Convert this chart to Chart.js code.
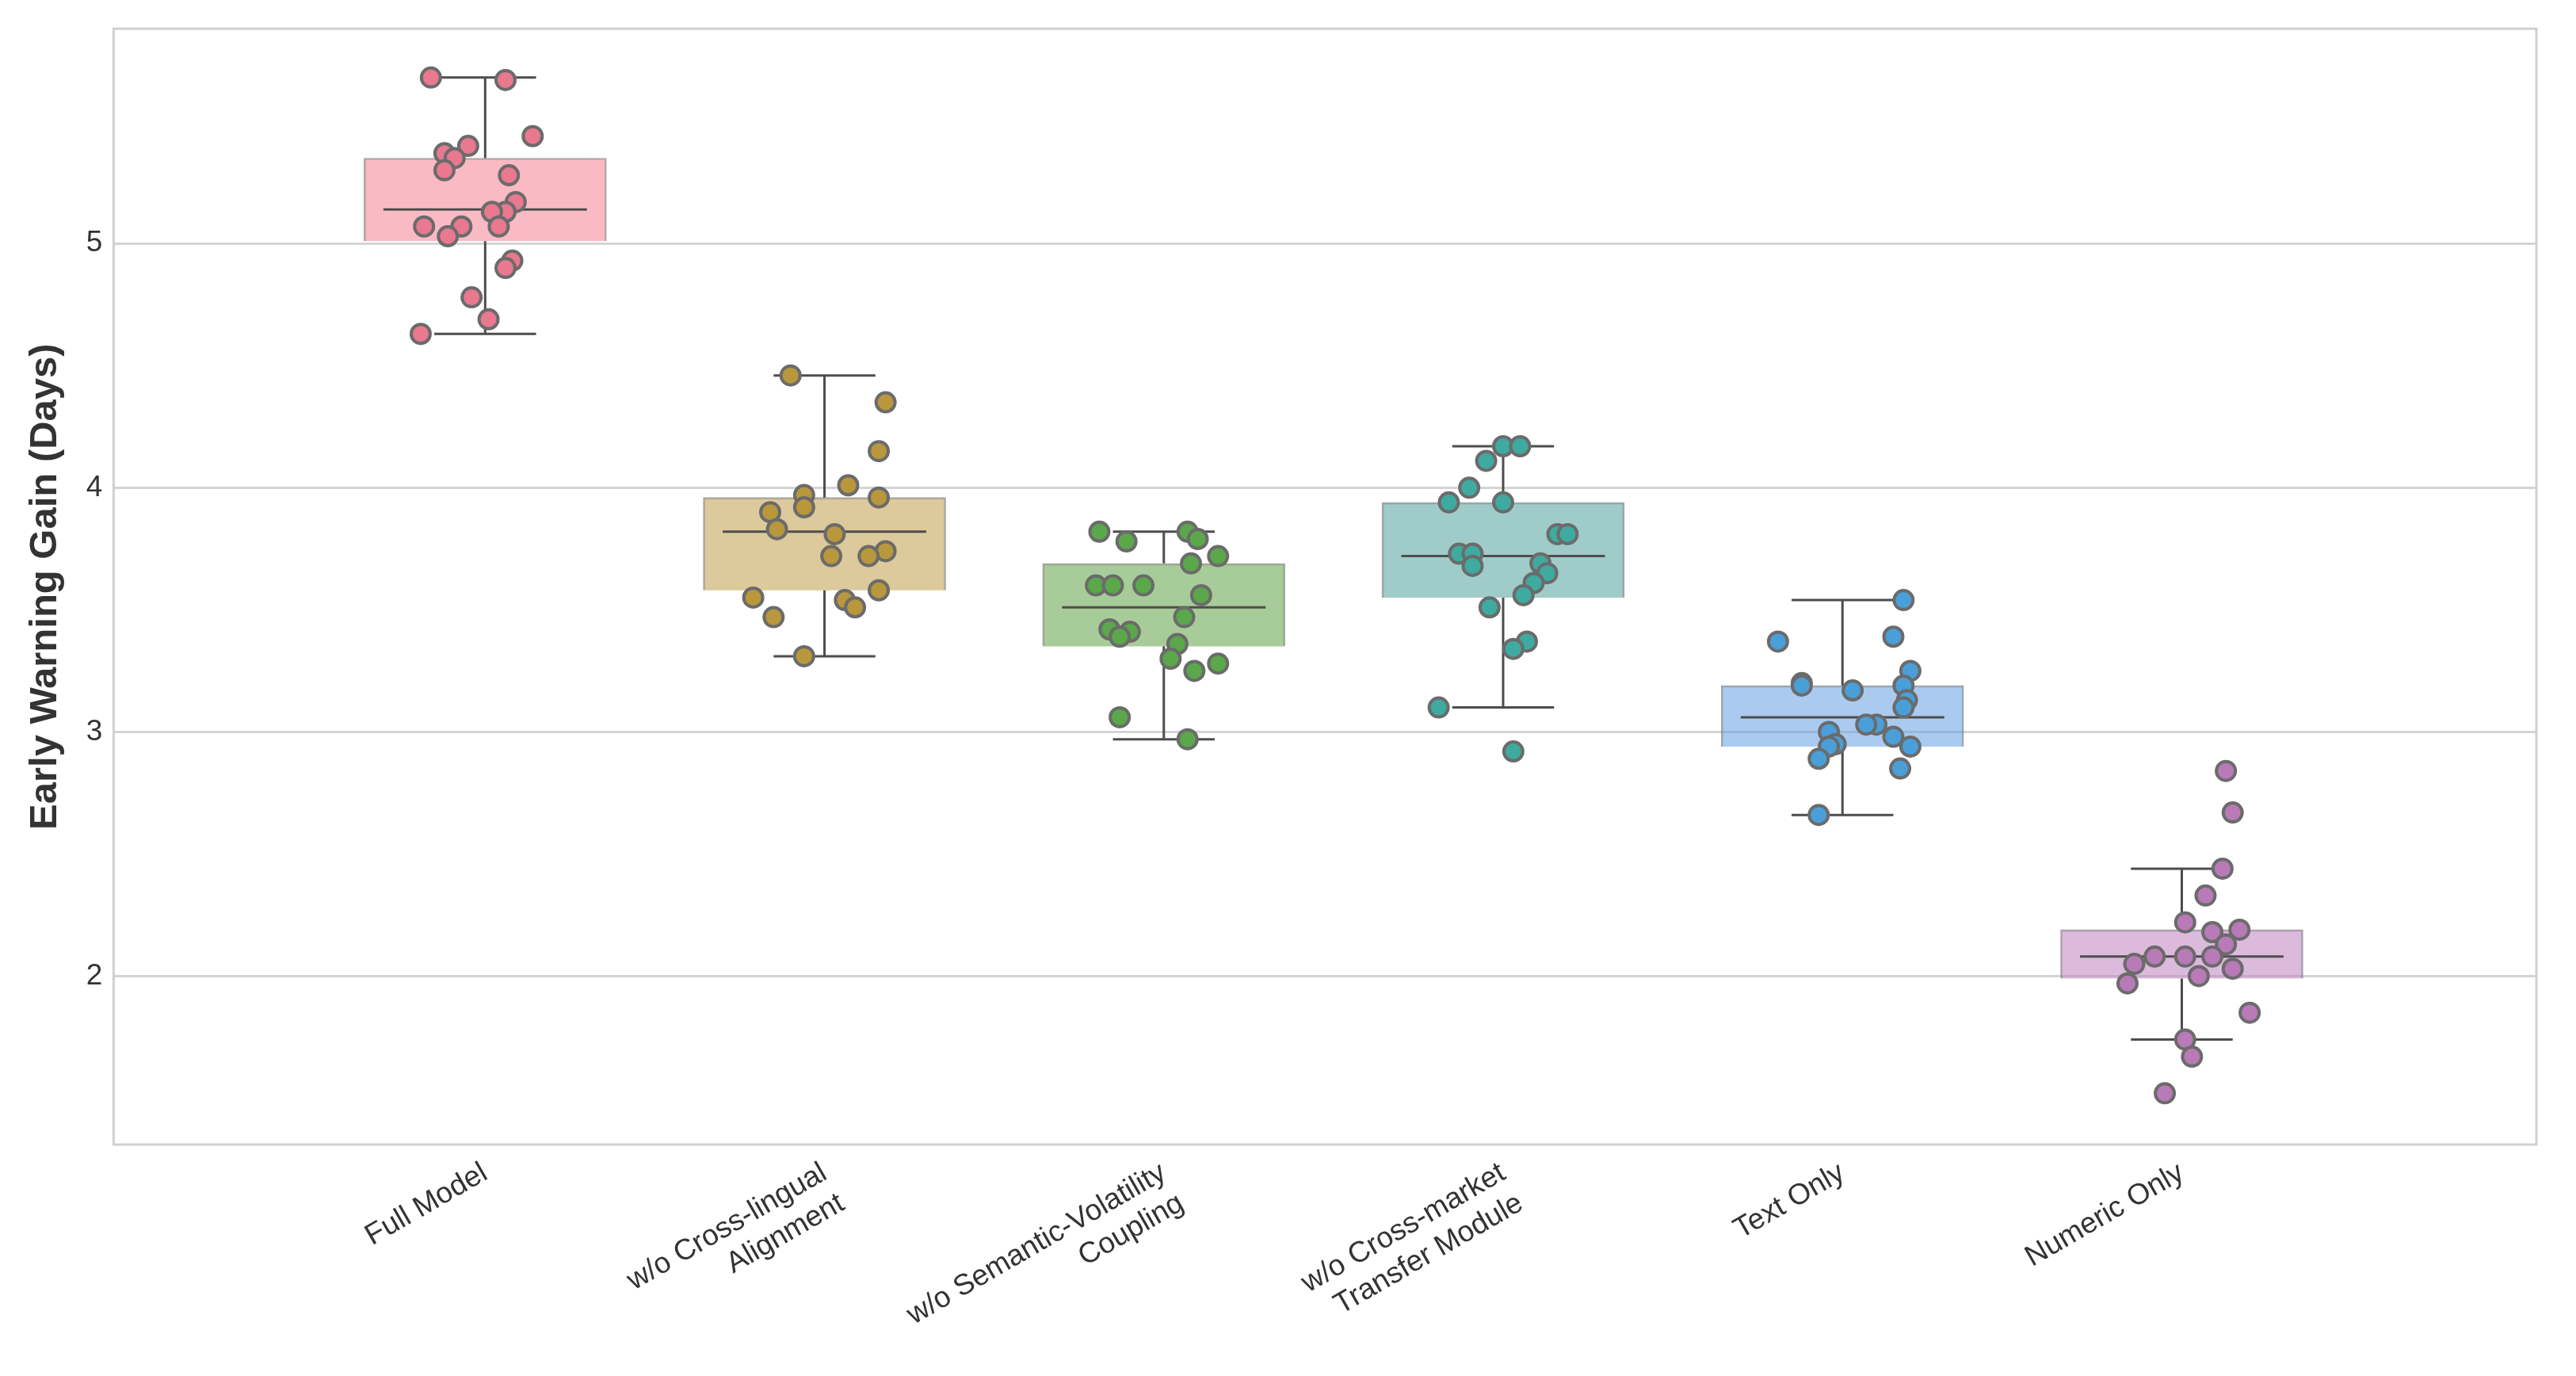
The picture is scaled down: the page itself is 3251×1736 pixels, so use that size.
<!DOCTYPE html>
<html>
<head>
<meta charset="utf-8">
<script src="https://cdn.jsdelivr.net/npm/chart.js@4.4.1/dist/chart.umd.min.js"></script>
<style>
  html, body { margin: 0; padding: 0; background: #fff; }
  #wrap { width: 3251px; height: 1736px; }
</style>
</head>
<body>
<div id="wrap"><canvas id="c"></canvas></div>
<script>
const CATEGORIES = [
  "Full Model",
  ["w/o Cross-lingual", "Alignment"],
  ["w/o Semantic-Volatility", "Coupling"],
  ["w/o Cross-market", "Transfer Module"],
  "Text Only",
  "Numeric Only",
];

// box statistics
const Q1 = [5.01, 3.58, 3.35, 3.55, 2.94, 1.99];
const MEDIAN = [5.14, 3.82, 3.51, 3.72, 3.06, 2.08];
const Q3 = [5.35, 3.96, 3.69, 3.94, 3.19, 2.19];
const WHISK_LO = [4.63, 3.31, 2.97, 3.10, 2.66, 1.74];
const WHISK_HI = [5.68, 4.46, 3.82, 4.17, 3.54, 2.44];

// individual runs (value) and their horizontal jitter
const FULL_VALS = [5.68, 5.67, 5.44, 5.40, 5.37, 5.35, 5.30, 5.28, 5.17, 5.13, 5.13, 5.07, 5.07, 5.07, 5.03, 4.93, 4.90, 4.78, 4.69, 4.63];
const FULL_JIT = [-0.16, 0.06, 0.14, -0.05, -0.12, -0.09, -0.12, 0.07, 0.09, 0.06, 0.02, -0.18, -0.07, 0.04, -0.11, 0.08, 0.06, -0.04, 0.01, -0.19];
const XLING_VALS = [4.46, 4.35, 4.15, 4.01, 3.97, 3.96, 3.92, 3.90, 3.83, 3.81, 3.74, 3.72, 3.72, 3.58, 3.55, 3.54, 3.51, 3.47, 3.31];
const XLING_JIT = [-0.10, 0.18, 0.16, 0.07, -0.06, 0.16, -0.06, -0.16, -0.14, 0.03, 0.18, 0.13, 0.02, 0.16, -0.21, 0.06, 0.09, -0.15, -0.06];
const SEMVOL_VALS = [3.82, 3.82, 3.79, 3.78, 3.72, 3.69, 3.60, 3.60, 3.60, 3.56, 3.47, 3.42, 3.41, 3.39, 3.36, 3.30, 3.28, 3.25, 3.06, 2.97];
const SEMVOL_JIT = [-0.19, 0.07, 0.10, -0.11, 0.16, 0.08, -0.20, -0.15, -0.06, 0.11, 0.06, -0.16, -0.10, -0.13, 0.04, 0.02, 0.16, 0.09, -0.13, 0.07];
const XMKT_VALS = [4.17, 4.17, 4.11, 4.00, 3.94, 3.94, 3.81, 3.81, 3.73, 3.73, 3.69, 3.68, 3.65, 3.61, 3.56, 3.51, 3.37, 3.34, 3.10, 2.92];
const XMKT_JIT = [0.0, 0.05, -0.05, -0.10, -0.16, 0.0, 0.16, 0.19, -0.13, -0.09, 0.11, -0.09, 0.13, 0.09, 0.06, -0.04, 0.07, 0.03, -0.19, 0.03];
const TEXT_VALS = [3.54, 3.37, 3.39, 3.25, 3.20, 3.19, 3.19, 3.17, 3.13, 3.10, 3.03, 3.03, 3.00, 2.98, 2.95, 2.94, 2.94, 2.89, 2.85, 2.66];
const TEXT_JIT = [0.18, -0.19, 0.15, 0.20, -0.12, -0.12, 0.18, 0.03, 0.19, 0.18, 0.10, 0.07, -0.04, 0.15, -0.02, -0.04, 0.20, -0.07, 0.17, -0.07];
const NUM_VALS = [2.84, 2.67, 2.44, 2.33, 2.22, 2.19, 2.18, 2.13, 2.05, 2.08, 2.08, 2.08, 2.03, 2.00, 1.97, 1.85, 1.74, 1.67, 1.52];
const NUM_JIT = [0.13, 0.15, 0.12, 0.07, 0.01, 0.17, 0.09, 0.13, -0.14, -0.08, 0.01, 0.09, 0.15, 0.05, -0.16, 0.20, 0.01, 0.03, -0.05];

const ALL_VALS = [FULL_VALS, XLING_VALS, SEMVOL_VALS, XMKT_VALS, TEXT_VALS, NUM_VALS];
const ALL_JIT = [FULL_JIT, XLING_JIT, SEMVOL_JIT, XMKT_JIT, TEXT_JIT, NUM_JIT];

const POINT_COLORS = ["#e8798f", "#b8973d", "#5aa84a", "#3eaaa0", "#4a9fd9", "#b97ab8"];
const BOX_COLORS = ["rgba(247,140,155,0.6)", "rgba(196,165,90,0.6)", "rgba(110,170,85,0.6)", "rgba(80,160,155,0.55)", "rgba(100,160,225,0.55)", "rgba(190,130,190,0.55)"];

const FONT = '"Liberation Sans", Arial, sans-serif';
const LINE = "#4d4d4d";

const boxData = CATEGORIES.map((_, i) => ({ x: i, y: [Q1[i], Q3[i]] }));

const whiskerData = [];
const capData = [];
const medianData = [];
CATEGORIES.forEach((_, i) => {
  const gap = { x: i, y: null };
  whiskerData.push({ x: i, y: WHISK_LO[i] }, { x: i, y: Q1[i] }, gap,
                   { x: i, y: Q3[i] }, { x: i, y: WHISK_HI[i] }, { x: i + 0.01, y: null });
  capData.push({ x: i - 0.15, y: WHISK_LO[i] }, { x: i + 0.15, y: WHISK_LO[i] }, { x: i + 0.15, y: null },
               { x: i - 0.15, y: WHISK_HI[i] }, { x: i + 0.15, y: WHISK_HI[i] }, { x: i + 0.15, y: null });
  medianData.push({ x: i - 0.3, y: MEDIAN[i] }, { x: i + 0.3, y: MEDIAN[i] }, { x: i + 0.3, y: null });
});

const pointDatasets = ALL_VALS.map((vals, i) => ({
  type: "scatter",
  data: vals.map((v, k) => ({ x: i + ALL_JIT[i][k], y: v })),
  backgroundColor: POINT_COLORS[i],
  borderColor: "#6b6b6b",
  borderWidth: 4,
  pointRadius: 12,
  order: 0,
}));

const lineStyle = { type: "line", borderColor: LINE, borderWidth: 3, pointRadius: 0, spanGaps: false, fill: false, order: 1 };

const frame = {
  id: "frame",
  afterDraw(chart) {
    const { ctx, chartArea: a } = chart;
    ctx.save();
    ctx.strokeStyle = "#d0d0d0";
    ctx.lineWidth = 3;
    ctx.strokeRect(a.left, a.top, a.right - a.left, a.bottom - a.top);
    ctx.restore();
  },
};

new Chart(document.getElementById("c"), {
  data: {
    datasets: [
      {
        type: "bar",
        data: boxData,
        backgroundColor: BOX_COLORS,
        borderColor: "rgba(110,110,110,0.6)",
        borderWidth: 2,
        barThickness: 306,
        grouped: false,
        order: 3,
      },
      { ...lineStyle, data: whiskerData },
      { ...lineStyle, data: capData },
      { ...lineStyle, data: medianData },
      ...pointDatasets,
    ],
  },
  options: {
    responsive: true,
    maintainAspectRatio: false,
    animation: false,
    parsing: true,
    layout: { padding: { left: 20, right: 50, top: 30, bottom: 10 } },
    plugins: { legend: { display: false }, tooltip: { enabled: false } },
    scales: {
      x: {
        type: "linear",
        min: -0.5,
        max: 5.45,
        afterBuildTicks(axis) {
          axis.ticks = CATEGORIES.map((_, i) => ({ value: i }));
        },
        ticks: {
          callback: (v) => CATEGORIES[v],
          minRotation: 30,
          maxRotation: 30,
          color: "#333",
          font: { family: FONT, size: 37 },
          padding: 6,
        },
        grid: { display: false },
        border: { display: false },
      },
      y: {
        min: 1.31,
        max: 5.88,
        afterBuildTicks(axis) {
          axis.ticks = [2, 3, 4, 5].map((v) => ({ value: v }));
        },
        ticks: { color: "#333", font: { family: FONT, size: 37 }, padding: 14 },
        grid: { color: "#d4d4d4", lineWidth: 3, drawTicks: false },
        border: { display: false },
        title: {
          display: true,
          text: "Early Warning Gain (Days)",
          color: "#333",
          font: { family: FONT, size: 49, weight: "bold" },
          padding: 8,
        },
      },
    },
  },
  plugins: [frame],
});
</script>
</body>
</html>
